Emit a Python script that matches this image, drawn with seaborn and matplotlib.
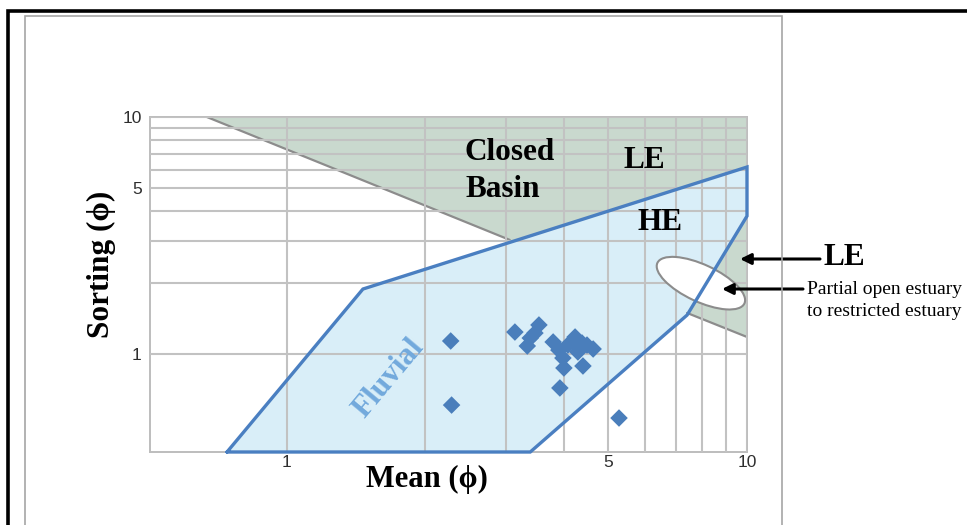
import numpy as np
import pandas as pd
import matplotlib
matplotlib.use("Agg")
import matplotlib.pyplot as plt
import matplotlib.transforms as mtransforms
from matplotlib.patches import Polygon, Ellipse, Rectangle, FancyArrowPatch
from matplotlib.ticker import FixedLocator, NullFormatter, FixedFormatter
import seaborn as sns

# Sample grain-size statistics (graphic mean vs. sorting, phi units)
mean_phi = [2.27, 2.28, 3.13, 3.33, 3.38, 3.46, 3.53, 3.79, 3.90, 3.98,
            4.00, 4.23, 4.21, 4.38, 4.49, 4.63, 4.40, 3.92, 5.27, 4.08, 4.29]
sorting_phi = [1.135, 0.609, 1.238, 1.081, 1.168, 1.226, 1.326, 1.124, 1.039, 0.962,
               0.873, 1.180, 1.113, 1.113, 1.091, 1.050, 0.890, 0.719, 0.537, 1.091, 1.020]

# Environment fields
fluvial_mean = [0.741, 1.463, 10.0, 10.0, 7.41, 3.38]
fluvial_sort = [0.386, 1.88, 6.15, 3.82, 1.46, 0.386]
basin_mean = [0.67, 10.0, 10.0, 7.41, 3.05]
basin_sort = [10.0, 10.0, 1.18, 1.49, 3.03]

# Partial open / restricted estuary ellipse centre
estuary_centre = (7.94, 1.99)

x_ticks = [1, 5, 10]
y_ticks = [1, 5, 10]
x_limits = (0.504, 10)
y_limits = (0.386, 10)

sns.set_theme(style="white")
plt.rcParams["font.family"] = ["Liberation Serif", "DejaVu Serif"]
plt.rcParams["text.color"] = "black"

W, H = 967, 525
fig = plt.figure(figsize=(W / 100, H / 100), dpi=100)
fig.patch.set_facecolor("white")


def F(px, py):
    return (px / W, 1 - py / H)


ax = fig.add_axes([150 / W, 1 - 452 / H, 597 / W, 335 / H])
ax.set_xscale("log")
ax.set_yscale("log")
ax.set_xlim(*x_limits)
ax.set_ylim(*y_limits)
ax.set_facecolor("white")

# Fields
ax.add_patch(Polygon(list(zip(basin_mean, basin_sort)), closed=True,
                     facecolor="#c9d9ce", edgecolor="none", zorder=1))
ax.add_patch(Polygon(list(zip(fluvial_mean, fluvial_sort)), closed=True,
                     facecolor="#d9eef8", edgecolor="none", zorder=1.2))
ax.plot([basin_mean[0], basin_mean[4]], [basin_sort[0], basin_sort[4]],
        color="#8c8c8c", lw=1.6, zorder=2)
ax.plot([basin_mean[3], basin_mean[2]], [basin_sort[3], basin_sort[2]],
        color="#8c8c8c", lw=1.6, zorder=2)

# Grid
ax.set_axisbelow(False)
ax.xaxis.set_major_locator(FixedLocator(x_ticks))
ax.xaxis.set_major_formatter(FixedFormatter([str(t) for t in x_ticks]))
ax.xaxis.set_minor_locator(FixedLocator([2, 3, 4, 6, 7, 8, 9]))
ax.xaxis.set_minor_formatter(NullFormatter())
ax.yaxis.set_major_locator(FixedLocator(y_ticks))
ax.yaxis.set_major_formatter(FixedFormatter([str(t) for t in y_ticks]))
ax.yaxis.set_minor_locator(FixedLocator([2, 3, 4, 6, 7, 8, 9]))
ax.yaxis.set_minor_formatter(NullFormatter())
ax.grid(True, which="both", color="#c2c2c2", lw=1.5)

# Estuary ellipse (drawn in screen units around its centre)
ell_tr = fig.dpi_scale_trans + mtransforms.ScaledTranslation(
    estuary_centre[0], estuary_centre[1], ax.transData)
ax.add_patch(Ellipse((0, 0), 0.96, 0.37, angle=-25, transform=ell_tr,
                     facecolor="white", edgecolor="#8c8c8c", lw=1.5,
                     zorder=3, clip_on=False))

# Fluvial outline
fx = fluvial_mean + [fluvial_mean[0]]
fy = fluvial_sort + [fluvial_sort[0]]
ax.plot(fx, fy, color="#4a7fc1", lw=2.4, zorder=4, clip_on=False,
        solid_joinstyle="miter")

# Samples
df = pd.DataFrame({"mean": mean_phi, "sorting": sorting_phi})
sns.scatterplot(data=df, x="mean", y="sorting", marker="D", s=80,
                color="#4a7ebb", edgecolor="none", linewidth=0, ax=ax,
                zorder=5, clip_on=False)

for side in ["left", "bottom", "top", "right"]:
    ax.spines[side].set_color("#bdbdbd")
    ax.spines[side].set_linewidth(1.4)
    ax.spines[side].set_visible(True)

ax.tick_params(axis="both", which="both", length=0)
ax.tick_params(axis="y", pad=6)
ax.tick_params(axis="x", pad=2)
for lab in ax.get_xticklabels() + ax.get_yticklabels():
    lab.set_fontfamily(["Liberation Sans", "DejaVu Sans"])
    lab.set_fontsize(12.5)
    lab.set_color("#2e2e2e")
ax.set_xlabel("")
ax.set_ylabel("")

# Axis titles
fig.text(*F(427, 487), "Mean (ϕ)", ha="center", va="baseline",
         fontsize=22, fontweight="bold", color="black")
fig.text(*F(101, 264), "Sorting (ϕ)", ha="center", va="center",
         rotation=90, fontsize=22.5, fontweight="bold", color="black")

# Field labels
for txt, px, py in [("Closed", 465, 160), ("Basin", 465, 197),
                    ("LE", 623, 168), ("HE", 638, 230)]:
    fig.text(*F(px, py), txt, ha="left", va="baseline", fontsize=22.5,
             fontweight="bold", color="black")
fig.text(*F(389, 378), "Fluvial", ha="center", va="center", rotation=50,
         fontsize=22.5, fontweight="bold", color="#72a9dc")

# Call-outs on the right
fig.text(*F(823, 265), "LE", ha="left", va="baseline", fontsize=22.5,
         fontweight="bold", color="black")
fig.text(*F(807, 289), "Partial open estuary", ha="left", va="center",
         fontsize=14, color="black")
fig.text(*F(807, 312), "to restricted estuary", ha="left", va="center",
         fontsize=14, color="black")
for (x0, x1, yy) in [(820, 740, 259), (803, 722, 289)]:
    fig.add_artist(FancyArrowPatch(
        F(x0, yy), F(x1, yy), transform=fig.transFigure,
        arrowstyle="-|>", mutation_scale=16, color="black", lw=2.2,
        shrinkA=0, shrinkB=0))

# Page frames
fig.add_artist(Rectangle(F(8, 600), 2.0, (600 - 11) / H, transform=fig.transFigure,
                         fill=False, edgecolor="black", lw=2.6))
fig.add_artist(Rectangle(F(25, 600), (782 - 25) / W, (600 - 16) / H,
                         transform=fig.transFigure, fill=False,
                         edgecolor="#a6a6a6", lw=1.2))

fig.savefig("out.png", dpi=100)
